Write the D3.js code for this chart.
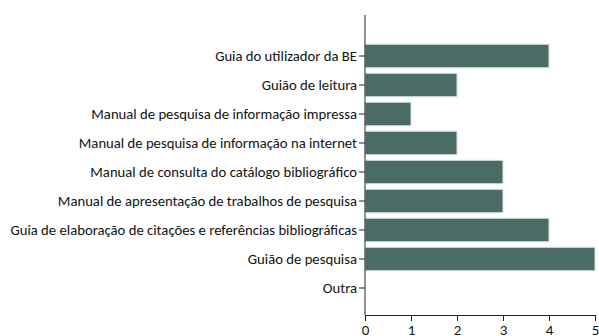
<!DOCTYPE html>
<html>
<head>
<meta charset="utf-8">
<script src="https://cdn.jsdelivr.net/npm/d3@7"></script>
<style>
  html, body { margin: 0; padding: 0; background: #fff; }
  svg text { font-family: Carlito, Lato, "Open Sans", sans-serif; fill: #111; }
</style>
</head>
<body>
<svg id="chart" width="599" height="336"></svg>
<script>
const categories = [
  "Guia do utilizador da BE",
  "Guião de leitura",
  "Manual de pesquisa de informação impressa",
  "Manual de pesquisa de informação na internet",
  "Manual de consulta do catálogo bibliográfico",
  "Manual de apresentação de trabalhos de pesquisa",
  "Guia de elaboração de citações e referências bibliográficas",
  "Guião de pesquisa",
  "Outra"
];
const values = [4, 2, 1, 2, 3, 3, 4, 5, 0];
const xTicks = [0, 1, 2, 3, 4, 5];

const svg = d3.select("#chart");
const x0 = 365, x1 = 595, yTop = 15, yBottom = 315;

const x = d3.scaleLinear().domain([0, 5]).range([x0, x1]);
const y = d3.scaleBand().domain(categories).range([41.5, 302.5]).paddingInner(0.19).paddingOuter(0.095);

// bars
svg.append("g").selectAll("rect")
  .data(categories.map((c, i) => ({ c, v: values[i] })).filter(d => d.v > 0))
  .join("rect")
  .attr("x", x(0))
  .attr("y", d => y(d.c))
  .attr("width", d => x(d.v) - x(0))
  .attr("height", y.bandwidth())
  .attr("fill", "#4a6b66")
  .attr("stroke", "#dbe6e4")
  .attr("stroke-width", 1);

// category axis
const yAxis = svg.append("g").attr("transform", `translate(${x0},0)`);
yAxis.append("line").attr("x1", 0).attr("x2", 0).attr("y1", yTop).attr("y2", yBottom)
  .attr("stroke", "#222").attr("stroke-width", 1);
const yt = yAxis.selectAll("g.t").data(categories).join("g").attr("class", "t")
  .attr("transform", d => `translate(0,${y(d) + y.bandwidth() / 2})`);
yt.append("line").attr("x1", -6).attr("x2", 0).attr("stroke", "#222");
yt.append("text").attr("x", -8).attr("dy", "0.35em").attr("text-anchor", "end")
  .attr("font-size", 14.7).text(d => d);

// value axis
const xAxis = svg.append("g").attr("transform", `translate(0,${yBottom})`)
  .call(d3.axisBottom(x).tickValues(xTicks).tickFormat(d3.format("d")).tickSize(6).tickSizeOuter(0).tickPadding(3));
xAxis.select(".domain").attr("stroke", "#222");
xAxis.selectAll(".tick line").attr("stroke", "#222");
xAxis.selectAll(".tick text").attr("font-size", 15).attr("font-family", "Carlito, Lato, 'Open Sans', sans-serif").attr("fill", "#111");
</script>
</body>
</html>
